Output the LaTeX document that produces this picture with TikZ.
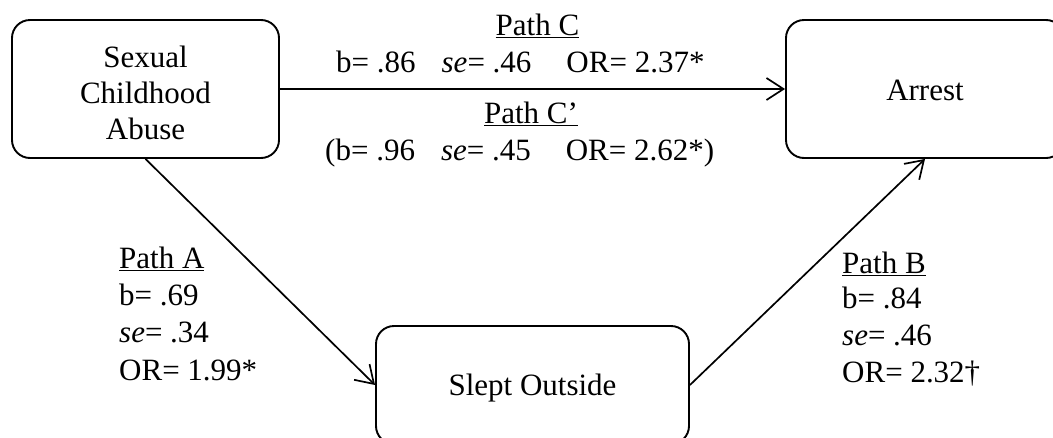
\documentclass[tikz,border=0pt]{standalone}
\usepackage{fontspec}
\setmainfont{Liberation Serif}
\usetikzlibrary{arrows.meta}
\begin{document}
\begin{tikzpicture}[x=1pt,y=-1pt,
  every node/.style={font=\fontsize{31}{36}\selectfont, inner sep=0pt},
  box/.style={draw, line width=1.9pt, rounded corners=18pt, align=center},
  conn/.style={line width=1.7pt, -{Straight Barb[length=17pt,width=22pt,line width=1.7pt]}},
  lab/.style={anchor=base west},
  ttl/.style={anchor=base},
]
\useasboundingbox (0,0) rectangle (1053,437);
\node[box, minimum width=267pt, minimum height=138pt] (abuse) at (145.5,89) {};
\node[align=center, anchor=base] (abusetxt) at (145.5,139) {Sexual\\Childhood\\Abuse};
\node[box, minimum width=278pt, minimum height=138pt] (arrest) at (925,89) {};
\node[anchor=base] (arresttxt) at (925,100) {Arrest};
\node[box, minimum width=313pt, minimum height=118pt] (slept) at (532.5,385) {};
\node[anchor=base] (slepttxt) at (532.5,395) {Slept Outside};

\draw[conn] (abuse.east) -- (arrest.west);
\draw[conn] (abuse.south) -- (slept.west);
\draw[conn] (slept.east) -- (arrest.south);

\node[ttl] (pc) at (537.5,35) {\underline{Path C}};
\node[lab] (pcv) at (336,72) {b= .86\hspace{26pt}\textit{se}= .46\hspace{35pt}OR= 2.37*};
\node[ttl] (pcp) at (531,123) {\underline{Path C’}};
\node[lab] (pcpv) at (325,160) {(b= .96\hspace{26pt}\textit{se}= .45\hspace{35pt}OR= 2.62*)};

\node[lab] (pa1) at (119,268) {\underline{Path A}};
\node[lab] (pa2) at (119,305) {b= .69};
\node[lab] (pa3) at (119,342) {\textit{se}= .34};
\node[lab] (pa4) at (119,380) {OR= 1.99*};

\node[lab] (pb1) at (842,273) {\underline{Path B}};
\node[lab] (pb2) at (842,308) {b= .84};
\node[lab] (pb3) at (842,345) {\textit{se}= .46};
\node[lab] (pb4) at (842,382) {OR= 2.32†};
\end{tikzpicture}
\end{document}
